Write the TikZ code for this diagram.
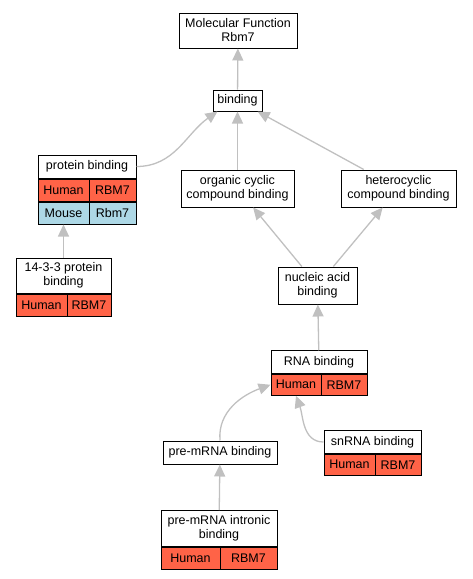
\documentclass[tikz,border=0pt]{standalone}
\usepackage{fontspec}
\setsansfont{Liberation Sans}
\usepackage{tikz}
\usetikzlibrary{positioning,arrows.meta}

\definecolor{humanred}{HTML}{FF6347}
\definecolor{mouseblue}{HTML}{ADD8E6}
\definecolor{linkgray}{HTML}{C0C0C0}

\tikzset{
  term/.style = {draw, fill = white, shape = rectangle, line width = 1pt, inner sep = 0pt, align = center, font = {\sffamily\fontsize{12.5}{14}\selectfont}},
  cell/.style = {term, minimum height = 22pt},
  human/.style = {cell, fill = humanred},
  mouse/.style = {cell, fill = mouseblue},
  link/.style = {draw = linkgray, line width = 1.3pt, -{Triangle[length = 12pt, width = 11pt]}}
}

\begin{document}
\begin{tikzpicture}[x = 1pt, y = -1pt]
\useasboundingbox (0,0) rectangle (472,579);

% terms
\node[term, minimum width = 118pt, minimum height = 35pt] (mf) at (238,30.5) {Molecular Function\\Rbm7};
\node[term, minimum width = 49pt, minimum height = 21pt] (bind) at (237.5,100.5) {binding};
\node[term, minimum width = 98pt, minimum height = 23pt] (prot) at (87,166.5) {protein binding};
\node[human, minimum width = 51pt, below right = 0pt and 0pt of prot.south west, anchor = north west] (protH) {Human};
\node[human, minimum width = 47pt, anchor = north east] (protHg) at (prot.south east) {RBM7};
\node[mouse, minimum width = 51pt, anchor = north west] (protM) at (protH.south west) {Mouse};
\node[mouse, minimum width = 47pt, anchor = north east] (protMg) at (protHg.south east) {Rbm7};
\node[term, minimum width = 95pt, minimum height = 35pt] (fourteen) at (63.5,275.5) {14-3-3 protein\\binding};
\node[human, minimum width = 51pt, anchor = north west] (fourteenH) at (fourteen.south west) {Human};
\node[human, minimum width = 44pt, anchor = north east] (fourteenHg) at (fourteen.south east) {RBM7};
\node[term, minimum width = 113pt, minimum height = 37pt] (organic) at (237.5,188.5) {organic cyclic\\compound binding};
\node[term, minimum width = 115pt, minimum height = 37pt] (hetero) at (398.5,188.5) {heterocyclic\\compound binding};
\node[term, minimum width = 79pt, minimum height = 37pt] (nucleic) at (317.5,285.5) {nucleic acid\\binding};
\node[term, minimum width = 96pt, minimum height = 22.5pt] (rna) at (319,362) {RNA binding};
\node[human, minimum width = 50pt, minimum height = 21pt, anchor = north west] (rnaH) at (rna.south west) {Human};
\node[human, minimum width = 46pt, minimum height = 21pt, anchor = north east] (rnaHg) at (rna.south east) {RBM7};
\node[term, minimum width = 97pt, minimum height = 22.5pt] (snrna) at (372.5,442) {snRNA binding};
\node[human, minimum width = 51pt, minimum height = 21pt, anchor = north west] (snrnaH) at (snrna.south west) {Human};
\node[human, minimum width = 46pt, minimum height = 21pt, anchor = north east] (snrnaHg) at (snrna.south east) {RBM7};
\node[term, minimum width = 114pt, minimum height = 23pt] (premrna) at (220,452.5) {pre-mRNA binding};
\node[term, minimum width = 116pt, minimum height = 36pt] (intronic) at (219,528.5) {pre-mRNA intronic\\binding};
\node[human, minimum width = 59pt, minimum height = 21.5pt, anchor = north west] (intronicH) at (intronic.south west) {Human};
\node[human, minimum width = 57pt, minimum height = 21.5pt, anchor = north east] (intronicHg) at (intronic.south east) {RBM7};

% is_a links
\draw[link] (bind) -- (mf);
\draw[link] (prot.east) to[out = 0, in = 215] ([xshift = 5pt]bind.south west);
\draw[link] (organic) -- (bind);
\draw[link] (hetero) -- (bind);
\draw[link] (fourteen) -- (protM);
\draw[link] (nucleic) -- (organic);
\draw[link] (nucleic) -- (hetero);
\draw[link] (rna) -- (nucleic);
\draw[link] (premrna.north) to[out = 95, in = 200] (rnaH.west);
\draw[link] (snrna.west) to[out = 180, in = -70] (rnaH.south);
\draw[link] (intronic) -- (premrna);
\end{tikzpicture}
\end{document}
